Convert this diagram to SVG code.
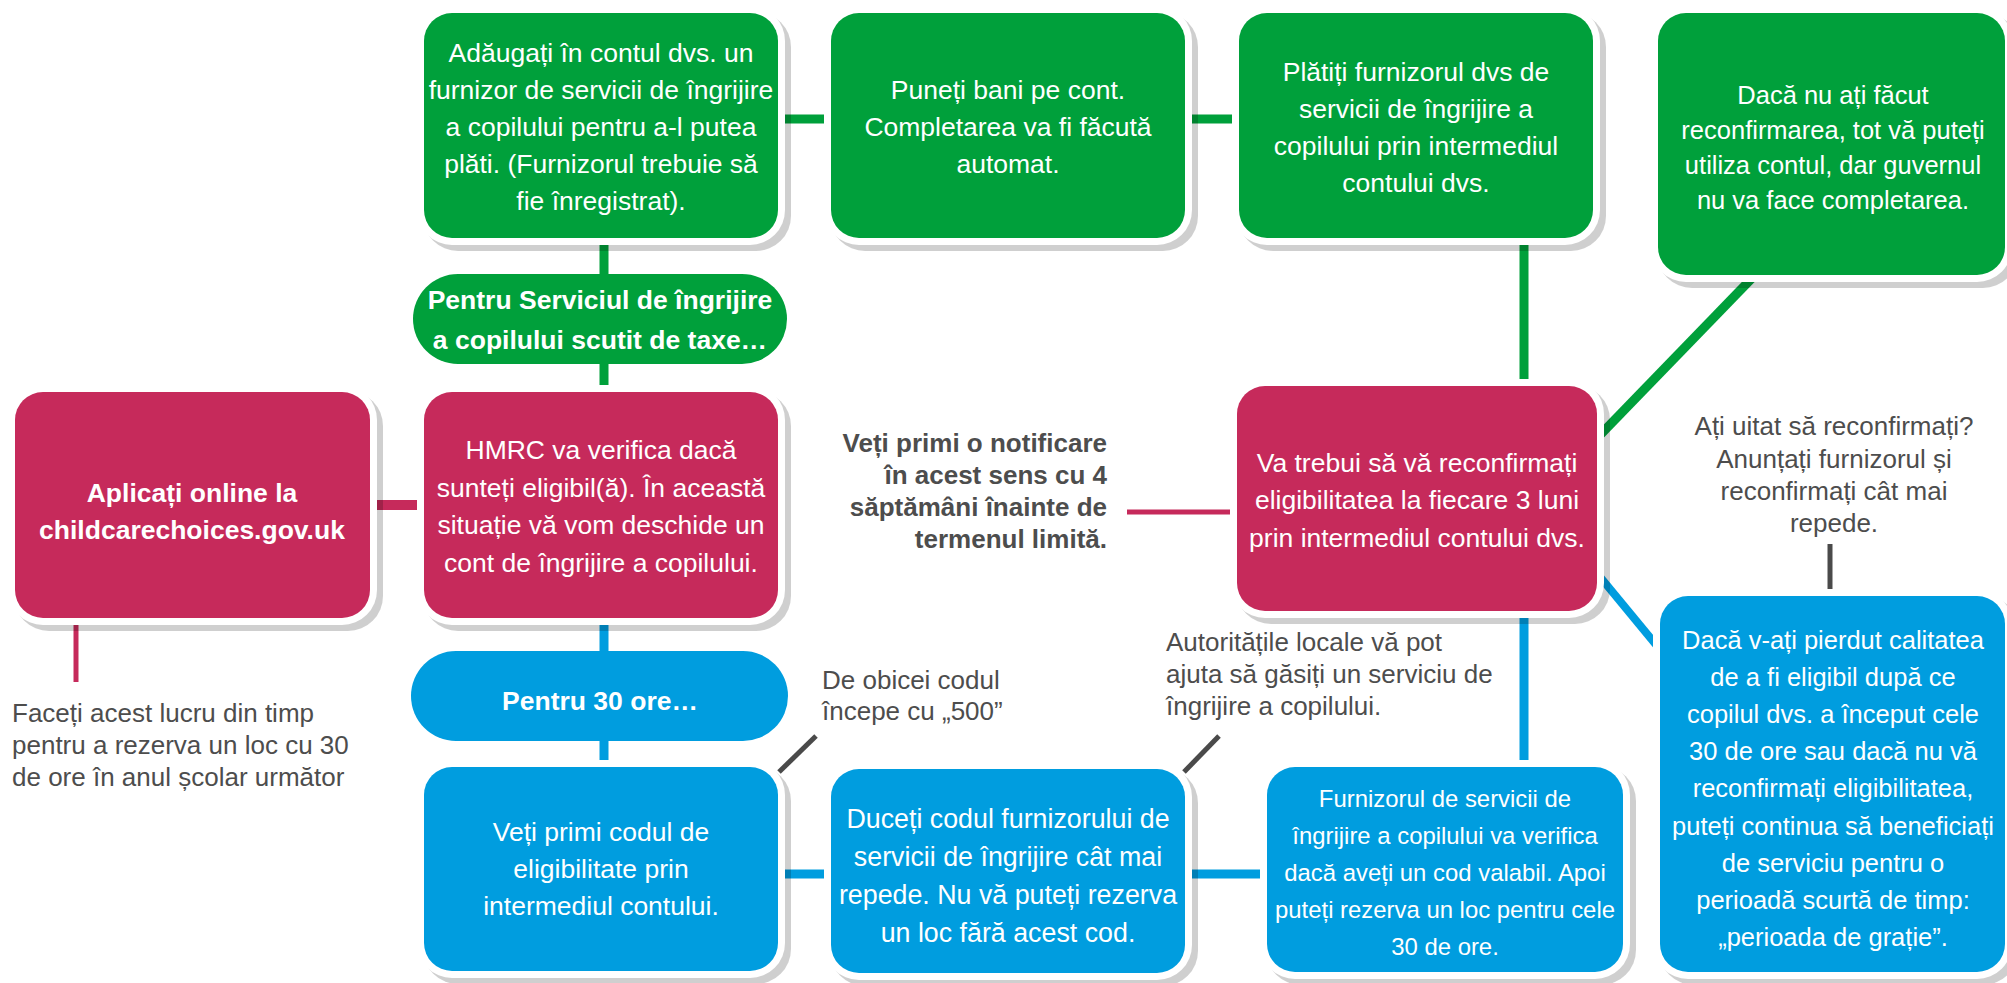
<svg xmlns="http://www.w3.org/2000/svg" width="2007" height="983" viewBox="0 0 2007 983">
<style>
  .t { font-family: "Liberation Sans", Arial, Helvetica, sans-serif; }
  .w { fill: #ffffff; text-anchor: middle; font-size: 26.5px; }
  .b { font-weight: bold; }
  .g { fill: #4d4d4d; font-size: 26px; }
  .sh { fill: #000000; fill-opacity: 0.19; }
  .ol { fill: #ffffff; }
  .green { fill: #00a03b; }
  .pink { fill: #c62a5b; }
  .blue { fill: #009ddf; }
  .cg { stroke: #00a03b; stroke-width: 9; fill: none; }
  .cp { stroke: #c62a5b; stroke-width: 10; fill: none; }
  .cpt { stroke: #c62a5b; stroke-width: 5; fill: none; }
  .cb { stroke: #009ddf; stroke-width: 9; fill: none; }
  .cbd { stroke: #009ddf; stroke-width: 8; fill: none; }
  .cgr { stroke: #4a4a4a; stroke-width: 5; fill: none; }
</style>

<g id="connectors">
  <line class="cg" x1="604" y1="230" x2="604" y2="392"/>
  <line class="cg" x1="770" y1="119" x2="835" y2="119"/>
  <line class="cg" x1="1180" y1="119" x2="1243" y2="119"/>
  <line class="cg" x1="1524" y1="230" x2="1524" y2="390"/>
  <line class="cg" x1="1755" y1="275" x2="1601" y2="434"/>
  <line class="cp" x1="365" y1="505" x2="428" y2="505"/>
  <line class="cpt" x1="76" y1="615" x2="76" y2="682"/>
  <line class="cpt" x1="1127" y1="512" x2="1240" y2="512"/>
  <line class="cb" x1="604" y1="612" x2="604" y2="770"/>
  <line class="cb" x1="770" y1="874" x2="835" y2="874"/>
  <line class="cb" x1="1180" y1="874" x2="1270" y2="874"/>
  <line class="cb" x1="1524" y1="605" x2="1524" y2="770"/>
  <line class="cbd" x1="1596" y1="572" x2="1662" y2="652"/>
  <line class="cgr" x1="1830" y1="544" x2="1830" y2="589"/>
  <line class="cgr" x1="779" y1="772" x2="816" y2="736"/>
  <line class="cgr" x1="1184" y1="772" x2="1219" y2="736"/>
</g>

<g id="node-adaugati">
  <rect class="sh" x="423" y="12" width="368" height="239" rx="35"/>
  <rect class="ol" x="417" y="6" width="368" height="239" rx="35"/>
  <rect class="green" x="424" y="13" width="354" height="225" rx="28"/>
  <text class="t w" x="601" y="62">Adăugați în contul dvs. un</text>
  <text class="t w" x="601" y="99">furnizor de servicii de îngrijire</text>
  <text class="t w" x="601" y="136">a copilului pentru a-l putea</text>
  <text class="t w" x="601" y="173">plăti. (Furnizorul trebuie să</text>
  <text class="t w" x="601" y="210">fie înregistrat).</text>
</g>

<g id="node-puneti">
  <rect class="sh" x="830" y="12" width="368" height="239" rx="35"/>
  <rect class="ol" x="824" y="6" width="368" height="239" rx="35"/>
  <rect class="green" x="831" y="13" width="354" height="225" rx="28"/>
  <text class="t w" x="1008" y="99">Puneți bani pe cont.</text>
  <text class="t w" x="1008" y="136">Completarea va fi făcută</text>
  <text class="t w" x="1008" y="173">automat.</text>
</g>

<g id="node-platiti">
  <rect class="sh" x="1238" y="12" width="368" height="239" rx="35"/>
  <rect class="ol" x="1232" y="6" width="368" height="239" rx="35"/>
  <rect class="green" x="1239" y="13" width="354" height="225" rx="28"/>
  <text class="t w" x="1416" y="81">Plătiți furnizorul dvs de</text>
  <text class="t w" x="1416" y="118">servicii de îngrijire a</text>
  <text class="t w" x="1416" y="155">copilului prin intermediul</text>
  <text class="t w" x="1416" y="192">contului dvs.</text>
</g>

<g id="node-daca-nu">
  <rect class="sh" x="1657" y="12" width="361" height="276" rx="35"/>
  <rect class="ol" x="1651" y="6" width="361" height="276" rx="35"/>
  <rect class="green" x="1658" y="13" width="347" height="262" rx="28"/>
  <text class="t w" x="1833" y="104" style="font-size:25.5px">Dacă nu ați făcut</text>
  <text class="t w" x="1833" y="139" style="font-size:25.5px">reconfirmarea, tot vă puteți</text>
  <text class="t w" x="1833" y="174" style="font-size:25.5px">utiliza contul, dar guvernul</text>
  <text class="t w" x="1833" y="209" style="font-size:25.5px">nu va face completarea.</text>
</g>

<g id="pill-scutit">
  <rect class="green" x="413" y="274" width="374" height="90" rx="45"/>
  <text class="t w b" x="600" y="309">Pentru Serviciul de îngrijire</text>
  <text class="t w b" x="600" y="349">a copilului scutit de taxe…</text>
</g>

<g id="node-aplicati">
  <rect class="sh" x="14" y="391" width="369" height="240" rx="35"/>
  <rect class="ol" x="8" y="385" width="369" height="240" rx="35"/>
  <rect class="pink" x="15" y="392" width="355" height="226" rx="28"/>
  <text class="t w b" x="192" y="502">Aplicați online la</text>
  <text class="t w b" x="192" y="539">childcarechoices.gov.uk</text>
</g>

<g id="node-hmrc">
  <rect class="sh" x="423" y="391" width="368" height="240" rx="35"/>
  <rect class="ol" x="417" y="385" width="368" height="240" rx="35"/>
  <rect class="pink" x="424" y="392" width="354" height="226" rx="28"/>
  <text class="t w" x="601" y="459">HMRC va verifica dacă</text>
  <text class="t w" x="601" y="497">sunteți eligibil(ă). În această</text>
  <text class="t w" x="601" y="534">situație vă vom deschide un</text>
  <text class="t w" x="601" y="572">cont de îngrijire a copilului.</text>
</g>

<g id="note-faceti">
  <text class="t g" x="12" y="722">Faceți acest lucru din timp</text>
  <text class="t g" x="12" y="754">pentru a rezerva un loc cu 30</text>
  <text class="t g" x="12" y="786">de ore în anul școlar următor</text>
</g>

<g id="note-notificare">
  <text class="t g b" x="1107" y="452" text-anchor="end">Veți primi o notificare</text>
  <text class="t g b" x="1107" y="484" text-anchor="end">în acest sens cu 4</text>
  <text class="t g b" x="1107" y="516" text-anchor="end">săptămâni înainte de</text>
  <text class="t g b" x="1107" y="548" text-anchor="end">termenul limită.</text>
</g>

<g id="node-reconfirmati">
  <rect class="sh" x="1236" y="385" width="374" height="239" rx="35"/>
  <rect class="ol" x="1230" y="379" width="374" height="239" rx="35"/>
  <rect class="pink" x="1237" y="386" width="360" height="225" rx="28"/>
  <text class="t w" x="1417" y="472">Va trebui să vă reconfirmați</text>
  <text class="t w" x="1417" y="509">eligibilitatea la fiecare 3 luni</text>
  <text class="t w" x="1417" y="547">prin intermediul contului dvs.</text>
</g>

<g id="note-uitat">
  <text class="t g" x="1834" y="435" text-anchor="middle">Ați uitat să reconfirmați?</text>
  <text class="t g" x="1834" y="468" text-anchor="middle">Anunțați furnizorul și</text>
  <text class="t g" x="1834" y="500" text-anchor="middle">reconfirmați cât mai</text>
  <text class="t g" x="1834" y="532" text-anchor="middle">repede.</text>
</g>

<g id="pill-30ore">
  <rect class="blue" x="411" y="651" width="377" height="90" rx="45"/>
  <text class="t w b" x="600" y="710">Pentru 30 ore…</text>
</g>

<g id="note-500">
  <text class="t g" x="822" y="689">De obicei codul</text>
  <text class="t g" x="822" y="720">începe cu „500”</text>
</g>

<g id="note-autoritati">
  <text class="t g" x="1166" y="651">Autoritățile locale vă pot</text>
  <text class="t g" x="1166" y="683">ajuta să găsiți un serviciu de</text>
  <text class="t g" x="1166" y="715">îngrijire a copilului.</text>
</g>

<g id="node-cod">
  <rect class="sh" x="423" y="766" width="368" height="218" rx="35"/>
  <rect class="ol" x="417" y="760" width="368" height="218" rx="35"/>
  <rect class="blue" x="424" y="767" width="354" height="204" rx="28"/>
  <text class="t w" x="601" y="841">Veți primi codul de</text>
  <text class="t w" x="601" y="878">eligibilitate prin</text>
  <text class="t w" x="601" y="915">intermediul contului.</text>
</g>

<g id="node-duceti">
  <rect class="sh" x="830" y="768" width="368" height="218" rx="35"/>
  <rect class="ol" x="824" y="762" width="368" height="218" rx="35"/>
  <rect class="blue" x="831" y="769" width="354" height="204" rx="28"/>
  <text class="t w" x="1008" y="828" style="font-size:26.8px">Duceți codul furnizorului de</text>
  <text class="t w" x="1008" y="866" style="font-size:26.8px">servicii de îngrijire cât mai</text>
  <text class="t w" x="1008" y="904" style="font-size:26.8px">repede. Nu vă puteți rezerva</text>
  <text class="t w" x="1008" y="942" style="font-size:26.8px">un loc fără acest cod.</text>
</g>

<g id="node-furnizorul">
  <rect class="sh" x="1266" y="766" width="370" height="219" rx="35"/>
  <rect class="ol" x="1260" y="760" width="370" height="219" rx="35"/>
  <rect class="blue" x="1267" y="767" width="356" height="205" rx="28"/>
  <text class="t w" x="1445" y="807" style="font-size:23.9px">Furnizorul de servicii de</text>
  <text class="t w" x="1445" y="844" style="font-size:23.9px">îngrijire a copilului va verifica</text>
  <text class="t w" x="1445" y="881" style="font-size:23.9px">dacă aveți un cod valabil. Apoi</text>
  <text class="t w" x="1445" y="918" style="font-size:23.9px">puteți rezerva un loc pentru cele</text>
  <text class="t w" x="1445" y="955" style="font-size:23.9px">30 de ore.</text>
</g>

<g id="node-pierdut">
  <rect class="sh" x="1659" y="595" width="359" height="390" rx="35"/>
  <rect class="ol" x="1653" y="589" width="359" height="390" rx="35"/>
  <rect class="blue" x="1660" y="596" width="345" height="376" rx="28"/>
  <text class="t w" x="1833" y="649" style="font-size:25.5px">Dacă v-ați pierdut calitatea</text>
  <text class="t w" x="1833" y="686" style="font-size:25.5px">de a fi eligibil după ce</text>
  <text class="t w" x="1833" y="723" style="font-size:25.5px">copilul dvs. a început cele</text>
  <text class="t w" x="1833" y="760" style="font-size:25.5px">30 de ore sau dacă nu vă</text>
  <text class="t w" x="1833" y="797" style="font-size:25.5px">reconfirmați eligibilitatea,</text>
  <text class="t w" x="1833" y="835" style="font-size:25.5px">puteți continua să beneficiați</text>
  <text class="t w" x="1833" y="872" style="font-size:25.5px">de serviciu pentru o</text>
  <text class="t w" x="1833" y="909" style="font-size:25.5px">perioadă scurtă de timp:</text>
  <text class="t w" x="1833" y="946" style="font-size:25.5px">„perioada de grație”.</text>
</g>
</svg>
